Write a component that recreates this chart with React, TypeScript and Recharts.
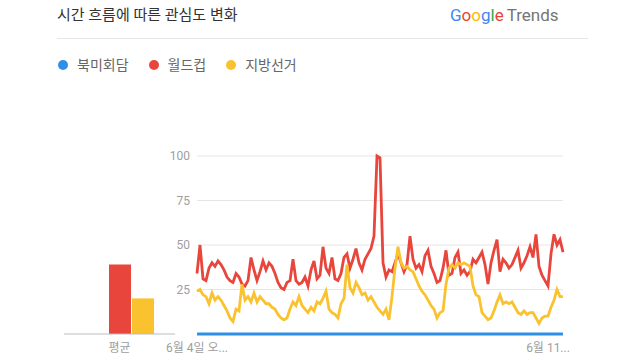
import { LineChart, Line, BarChart, Bar, XAxis, YAxis, CartesianGrid } from 'recharts';

const seriesNames = ['북미회담', '월드컵', '지방선거'];
const seriesColors = ['#2d8fe6', '#e8453c', '#f9c22e'];

const northAmericaTalks = new Array(123).fill(0);

const worldCup = [
    34, 50, 31, 30, 37, 40, 38, 41, 39, 36, 32, 30, 29, 34, 32, 28, 27, 30, 43, 36,
    30, 35, 41, 36, 40, 38, 34, 29, 26, 25, 29, 30, 42, 30, 28, 29, 32, 27, 36, 41,
    31, 33, 49, 37, 34, 43, 31, 30, 34, 43, 45, 37, 42, 48, 40, 36, 42, 45, 48, 55,
    100, 99, 40, 32, 36, 35, 40, 45, 40, 35, 39, 55, 42, 37, 39, 35, 44, 47, 38, 34,
    29, 30, 37, 47, 33, 34, 43, 46, 34, 36, 33, 35, 42, 40, 43, 46, 39, 28, 40, 47,
    53, 35, 42, 40, 37, 39, 43, 47, 37, 40, 44, 49, 43, 56, 38, 33, 30, 27, 45, 56,
    50, 53, 46,
];

const localElection = [
    24, 25, 22, 21, 17, 23, 19, 21, 19, 16, 13, 9, 7, 14, 13, 28, 19, 21, 18, 23,
    18, 21, 19, 17, 17, 15, 14, 11, 9, 8, 9, 14, 18, 16, 21, 16, 14, 12, 15, 13,
    18, 17, 20, 24, 14, 12, 11, 9, 17, 20, 39, 26, 23, 29, 26, 22, 23, 19, 21, 18,
    15, 13, 11, 14, 8, 21, 37, 49, 40, 37, 38, 36, 35, 31, 27, 24, 22, 19, 16, 14,
    9, 12, 13, 28, 37, 39, 37, 40, 39, 40, 39, 38, 27, 22, 21, 12, 10, 8, 9, 13,
    18, 22, 17, 18, 17, 18, 15, 12, 11, 13, 11, 12, 12, 9, 6, 9, 10, 10, 15, 19,
    25, 21, 21,
];

const averages = [0, 39, 20];
const yTicks = [25, 50, 75, 100];
const xTickIndexes = [0, 117];
const xTickLabels = ['6월 4일 오...', '6월 11...'];

const lineData = worldCup.map((v, i) => ({
    i,
    a: northAmericaTalks[i],
    b: v,
    c: localElection[i],
}));

const barData = [{ name: '평균', a: averages[0], b: averages[1], c: averages[2] }];

const font = 'Roboto, "Noto Sans CJK KR", sans-serif';
const tickStyle = { fill: '#9e9e9e', fontSize: 12, fontFamily: font };

const googleLetters = [
    { ch: 'G', color: '#4285f4' },
    { ch: 'o', color: '#ea4335' },
    { ch: 'o', color: '#fbbc05' },
    { ch: 'g', color: '#4285f4' },
    { ch: 'l', color: '#34a853' },
    { ch: 'e', color: '#ea4335' },
];

const App = () => {
    return (
        <div
            style={{
                position: 'absolute',
                left: 0,
                top: 0,
                width: 640,
                height: 360,
                background: '#fff',
                fontFamily: font,
                overflow: 'hidden',
            }}
        >
            <div style={{ position: 'absolute', left: 57, top: 5, fontSize: 15, color: '#333', lineHeight: '20px' }}>
                시간 흐름에 따른 관심도 변화
            </div>
            <div style={{ position: 'absolute', left: 450, top: 4, fontSize: 17, lineHeight: '22px', whiteSpace: 'nowrap' }}>
                {googleLetters.map((l, k) => (
                    <span key={k} style={{ color: l.color }}>{l.ch}</span>
                ))}
                <span style={{ color: '#757575', marginLeft: 3 }}>Trends</span>
            </div>
            <div style={{ position: 'absolute', left: 57, top: 38, width: 531, height: 1, background: '#e6e6e6' }} />
            <div style={{ position: 'absolute', left: 58, top: 56, display: 'flex', alignItems: 'center', fontSize: 14, color: '#666', lineHeight: '18px' }}>
                {seriesNames.map((n, k) => (
                    <div key={n} style={{ display: 'flex', alignItems: 'center', marginRight: 20 }}>
                        <span style={{ width: 10, height: 10, borderRadius: 5, background: seriesColors[k], marginRight: 9 }} />
                        <span>{n}</span>
                    </div>
                ))}
            </div>

            <div style={{ position: 'absolute', left: 64, top: 150 }}>
                <BarChart width={111} height={210} data={barData} margin={{ top: 6, right: 0, left: 0, bottom: 6 }} barGap={1}>
                    <XAxis
                        dataKey='name'
                        height={20}
                        tickLine={false}
                        tickSize={0}
                        tickMargin={9}
                        axisLine={{ stroke: '#bdbdbd' }}
                        tick={tickStyle}
                    />
                    <YAxis hide domain={[0, 100]} />
                    <Bar dataKey='a' fill={seriesColors[0]} barSize={22} isAnimationActive={false} />
                    <Bar dataKey='b' fill={seriesColors[1]} barSize={22} isAnimationActive={false} />
                    <Bar dataKey='c' fill={seriesColors[2]} barSize={22} isAnimationActive={false} />
                </BarChart>
            </div>

            <div style={{ position: 'absolute', left: 0, top: 0 }}>
                <LineChart width={640} height={360} data={lineData} margin={{ top: 156, right: 77, left: 157, bottom: 6 }}>
                    <CartesianGrid vertical={false} stroke='#e6e6e6' />
                    <XAxis
                        dataKey='i'
                        type='number'
                        domain={[0, lineData.length - 1]}
                        ticks={xTickIndexes}
                        tickFormatter={(v) => xTickLabels[xTickIndexes.indexOf(v)] ?? ''}
                        height={20}
                        axisLine={false}
                        tickLine={false}
                        tickSize={0}
                        tickMargin={9}
                        tick={tickStyle}
                        interval={0}
                    />
                    <YAxis
                        width={40}
                        domain={[0, 100]}
                        ticks={yTicks}
                        axisLine={false}
                        tickLine={false}
                        tickSize={0}
                        tickMargin={7}
                        tick={tickStyle}
                    />
                    <Line dataKey='a' stroke={seriesColors[0]} strokeWidth={2.8} dot={false} isAnimationActive={false} />
                    <Line dataKey='b' stroke={seriesColors[1]} strokeWidth={2.8} dot={false} isAnimationActive={false} />
                    <Line dataKey='c' stroke={seriesColors[2]} strokeWidth={2.8} dot={false} isAnimationActive={false} />
                </LineChart>
            </div>
        </div>
    );
};

export default App;
